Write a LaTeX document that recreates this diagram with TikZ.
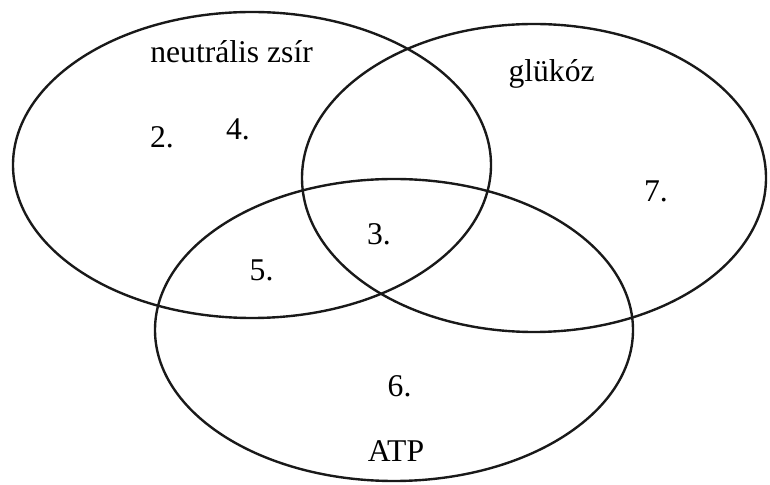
\documentclass[tikz,border=0pt]{standalone}
\usepackage{fontspec}
\setmainfont{Liberation Serif}
\usepackage{xcolor}
\usepackage{tikz}
\usetikzlibrary{positioning}

\tikzset{
  setline/.style={draw=black!90, line width=1.7pt},
  lbl/.style={anchor=base, inner sep=0pt, font=\fontsize{22.5}{27}\selectfont}
}

\begin{document}
\begin{tikzpicture}
        \useasboundingbox (0,0) rectangle (19.25,12.125);

        % the three sets
        \draw[setline] (6.3,8.0) ellipse [x radius=5.975, y radius=3.825];
        \draw[setline] (13.35,7.675) ellipse [x radius=5.8, y radius=3.85];
        \draw[setline] (9.85,3.875) ellipse [x radius=5.975, y radius=3.775];

        % set names
        \node[lbl] (zsir) at (5.79, 10.55) {neutrális zsír};
        \node[lbl] (glukoz) at (13.79, 10.075) {glükóz};
        \node[lbl] (atp) at (9.9, 0.575) {ATP};

        % region numbers
        \node[lbl] (r2) at (4.05, 8.425) {2.};
        \node[lbl] (r4) at (5.95, 8.625) {4.};
        \node[lbl] (r3) at (9.475, 6.0) {3.};
        \node[lbl] (r5) at (6.54, 5.1) {5.};
        \node[lbl] (r7) at (16.4, 7.075) {7.};
        \node[lbl] (r6) at (9.99, 2.2) {6.};
\end{tikzpicture}
\end{document}
